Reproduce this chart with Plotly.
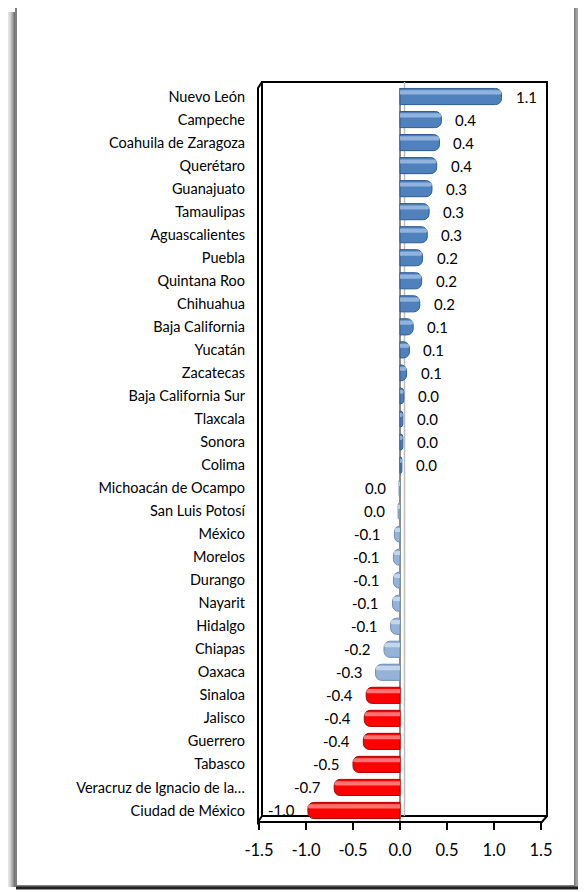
import plotly.graph_objects as go

# ---------------- data ----------------
states = [
    "Nuevo León", "Campeche", "Coahuila de Zaragoza", "Querétaro", "Guanajuato",
    "Tamaulipas", "Aguascalientes", "Puebla", "Quintana Roo", "Chihuahua",
    "Baja California", "Yucatán", "Zacatecas", "Baja California Sur", "Tlaxcala",
    "Sonora", "Colima", "Michoacán de Ocampo", "San Luis Potosí", "México",
    "Morelos", "Durango", "Nayarit", "Hidalgo", "Chiapas", "Oaxaca", "Sinaloa",
    "Jalisco", "Guerrero", "Tabasco", "Veracruz de Ignacio de la…", "Ciudad de México",
]
values = [
    1.08, 0.44, 0.42, 0.39, 0.34,
    0.31, 0.29, 0.24, 0.23, 0.21,
    0.14, 0.10, 0.07, 0.04, 0.03,
    0.03, 0.02, -0.01, -0.02, -0.06,
    -0.07, -0.07, -0.08, -0.10, -0.17, -0.26, -0.36,
    -0.38, -0.39, -0.50, -0.70, -0.98,
]
x_ticks = [-1.5, -1.0, -0.5, 0.0, 0.5, 1.0, 1.5]
x_tick_labels = ["-1.5", "-1.0", "-0.5", "0.0", "0.5", "1.0", "1.5"]


def fmt(v):
    s = f"{v:.1f}"
    return "0.0" if s == "-0.0" else s


labels = [fmt(v) for v in values]


def bar_colors(v):
    if v >= 0:
        return "#4F81BD", "#2F5C94", "#A7C4EA"
    if v > -0.3:
        return "#95B3D7", "#6F8DB4", "#D2E0F1"
    return "#FF0000", "#B00000", "#FF9A9A"


base = [bar_colors(v)[0] for v in values]
edge = [bar_colors(v)[1] for v in values]
hi = [bar_colors(v)[2] for v in values]

FONT = "Lato"

# ---------------- layout geometry ----------------
# the page body has an 8px margin, so the figure starts at window (8, 8)
OX, OY = 8, 8
WIN_W, WIN_H = 586, 892
W, H = WIN_W - OX, WIN_H - OY
L, R, T, B = 259 - OX, WIN_W - 541, 85 - OY, WIN_H - 822
PW, PH = W - L - R, H - T - B


def px(x):  # window pixel -> paper x
    return (x - OX - L) / PW


def py(y):  # window pixel -> paper y
    return (WIN_H - B - y) / PH


fig = go.Figure()

fig.add_trace(go.Bar(
    y=states, x=values, orientation="h",
    marker=dict(color=base, line=dict(color=edge, width=1), cornerradius=6),
    width=0.7, offset=-0.35, hoverinfo="skip", showlegend=False,
))
fig.add_trace(go.Bar(
    y=states, x=values, orientation="h",
    marker=dict(color=hi, line=dict(width=0), cornerradius=3, opacity=0.75),
    width=0.18, offset=-0.27, hoverinfo="skip", showlegend=False,
))

annotations = []
for s, v, t in zip(states, values, labels):
    annotations.append(dict(
        x=v, y=s, xref="x", yref="y", text=t, showarrow=False,
        xanchor="left" if v >= 0 else "right",
        xshift=12 if v >= 0 else -11,
        font=dict(family=FONT, size=15, color="#000000"),
    ))

shapes = []
# left shadow of the page
for i, op in enumerate([0.1, 0.14, 0.2, 0.27, 0.35, 0.45, 0.55]):
    shapes.append(dict(type="line", xref="paper", yref="paper",
                       x0=px(8.5 + i), x1=px(8.5 + i), y0=py(12), y1=py(887),
                       line=dict(color=f"rgba(0,0,0,{op})", width=1), layer="below"))
# page frame
shapes.append(dict(type="rect", xref="paper", yref="paper",
                   x0=px(16), x1=px(575), y0=py(886), y1=py(3),
                   fillcolor="#FFFFFF", line=dict(color="#7F7F7F", width=2), layer="below"))
# right / bottom darker edges
shapes.append(dict(type="line", xref="paper", yref="paper",
                   x0=px(577), x1=px(577), y0=py(887), y1=py(6),
                   line=dict(color="#A0A0A0", width=3), layer="below"))
shapes.append(dict(type="line", xref="paper", yref="paper",
                   x0=px(16), x1=px(578), y0=py(888), y1=py(888),
                   line=dict(color="#202020", width=3), layer="below"))
# plot box (back wall)
shapes.append(dict(type="rect", xref="paper", yref="paper",
                   x0=px(262), x1=px(547), y0=py(816), y1=py(82),
                   line=dict(color="#000000", width=2), layer="below"))
# left wall
shapes.append(dict(type="path", xref="paper", yref="paper",
                   path=f"M {px(262)},{py(82)} L {px(258)},{py(88)} L {px(258)},{py(822)} L {px(262)},{py(816)}",
                   line=dict(color="#000000", width=2)))
# floor
shapes.append(dict(type="path", xref="paper", yref="paper",
                   path=f"M {px(258)},{py(822)} L {px(542)},{py(822)} L {px(547)},{py(816)}",
                   line=dict(color="#000000", width=2)))
# zero plane lines
shapes.append(dict(type="line", xref="x", yref="paper", x0=0, x1=0, y0=py(822), y1=py(88),
                   line=dict(color="#8C8C8C", width=2), layer="below"))
shapes.append(dict(type="line", xref="paper", yref="paper", x0=px(404.5), x1=px(404.5),
                   y0=py(816), y1=py(82), line=dict(color="#BDBDBD", width=1.5), layer="below"))

fig.update_layout(
    width=W, height=H,
    margin=dict(l=L, r=R, t=T, b=B),
    paper_bgcolor="#FFFFFF", plot_bgcolor="rgba(0,0,0,0)",
    barmode="overlay",
    font=dict(family=FONT, size=14.5, color="#000000"),
    annotations=annotations, shapes=shapes,
    xaxis=dict(range=[-1.5, 1.5], tickvals=x_ticks, ticktext=x_tick_labels,
               showgrid=False, zeroline=False, showline=False,
               ticks="outside", ticklen=7, tickwidth=1.5, tickcolor="#000000",
               tickfont=dict(family=FONT, size=16.5), ticklabelstandoff=6),
    yaxis=dict(categoryorder="array", categoryarray=states, autorange="reversed",
               showgrid=False, zeroline=False, showline=False, ticks="",
               tickfont=dict(family=FONT, size=14.5), ticklabelstandoff=13),
)

fig.write_html("out.html")
